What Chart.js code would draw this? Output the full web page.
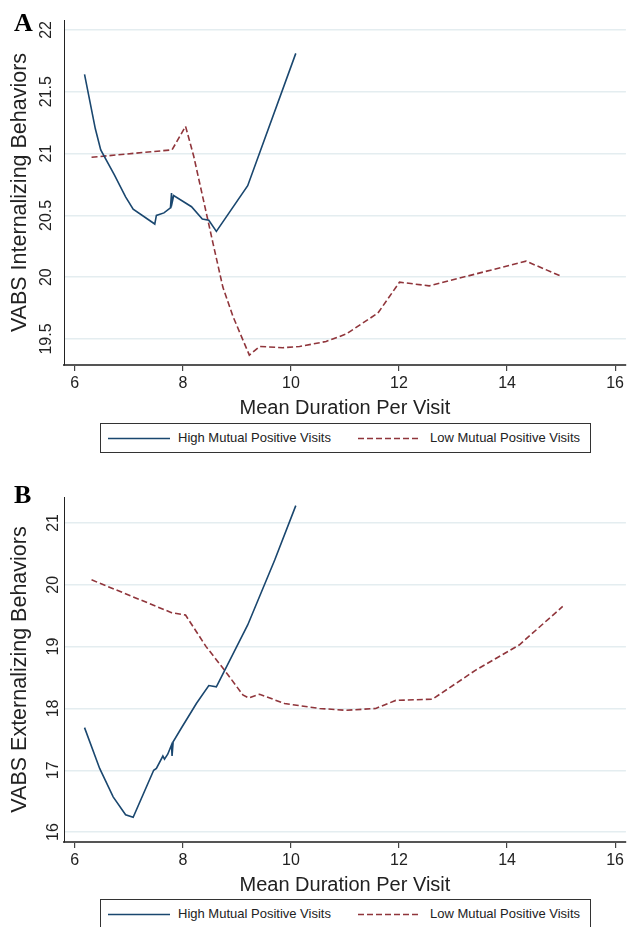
<!DOCTYPE html>
<html>
<head>
<meta charset="utf-8">
<script src="https://cdn.jsdelivr.net/npm/chart.js@4.4.1/dist/chart.umd.min.js"></script>
<style>
  body { margin: 0; background: #fff; }
  #wrap { position: relative; width: 627px; height: 927px; overflow: hidden; background: #fff; }
  canvas { position: absolute; left: 0; }
  .panel-letter { position: absolute; font-family: "Liberation Serif", "Times New Roman", serif; font-weight: bold; font-size: 26px; line-height: 1; color: #000; }
  .legend { position: absolute; left: 100px; width: 489px; height: 28px; border: 1px solid #333; background: #fff;
            font-family: "Liberation Sans", Arial, sans-serif; font-size: 13px; color: #222; }
  .legend svg { position: absolute; top: 13px; }
  .legend span { position: absolute; top: 6px; white-space: nowrap; }
</style>
</head>
<body>
<div id="wrap">
  <canvas id="chartA" width="627" height="460" style="top:0"></canvas>
  <canvas id="chartB" width="627" height="467" style="top:460px"></canvas>
  <div class="panel-letter" style="left:14px; top:10px">A</div>
  <div class="panel-letter" style="left:14px; top:482px">B</div>

  <div class="legend" style="top:423px">
    <svg width="62" height="3" style="left:7px"><line x1="0" y1="1.5" x2="62" y2="1.5" stroke="#1a476f" stroke-width="1.5"/></svg>
    <span style="left:77px">High Mutual Positive Visits</span>
    <svg width="62" height="3" style="left:257px"><line x1="0" y1="1.5" x2="62" y2="1.5" stroke="#90353b" stroke-width="1.5" stroke-dasharray="6,3"/></svg>
    <span style="left:329px">Low Mutual Positive Visits</span>
  </div>
  <div class="legend" style="top:899px">
    <svg width="62" height="3" style="left:7px"><line x1="0" y1="1.5" x2="62" y2="1.5" stroke="#1a476f" stroke-width="1.5"/></svg>
    <span style="left:77px">High Mutual Positive Visits</span>
    <svg width="62" height="3" style="left:257px"><line x1="0" y1="1.5" x2="62" y2="1.5" stroke="#90353b" stroke-width="1.5" stroke-dasharray="6,3"/></svg>
    <span style="left:329px">Low Mutual Positive Visits</span>
  </div>
</div>

<script>
// valores
const xTicks = [6, 8, 10, 12, 14, 16];
const yTicksA = [19.5, 20, 20.5, 21, 21.5, 22];
const yTicksB = [16, 17, 18, 19, 20, 21];

// Panel A - internalizing
const durHighA = [6.18, 6.38, 6.48, 6.73, 6.94, 7.08, 7.48, 7.51, 7.65, 7.77, 7.79, 7.80, 7.83, 8.16, 8.36, 8.48, 8.62, 9.20, 10.09];
const intHighA = [21.64, 21.20, 21.03, 20.83, 20.65, 20.55, 20.43, 20.50, 20.52, 20.56, 20.68, 20.60, 20.66, 20.57, 20.47, 20.46, 20.37, 20.74, 21.81];
const durLowA = [6.31, 7.80, 8.05, 8.20, 8.56, 8.74, 8.93, 9.23, 9.42, 9.85, 10.16, 10.65, 11.02, 11.61, 12.01, 12.56, 14.35, 14.99];
const intLowA = [20.97, 21.03, 21.22, 20.98, 20.27, 19.92, 19.68, 19.37, 19.44, 19.43, 19.44, 19.48, 19.54, 19.71, 19.96, 19.93, 20.13, 20.01];

// Panel B - externalizing
const durHighB = [6.18, 6.46, 6.71, 6.94, 7.08, 7.46, 7.51, 7.63, 7.66, 7.72, 7.79, 7.80, 7.82, 7.97, 8.16, 8.25, 8.48, 8.62, 9.20, 9.70, 10.09];
const extHighB = [17.69, 17.03, 16.57, 16.28, 16.24, 17.00, 17.03, 17.23, 17.18, 17.26, 17.41, 17.23, 17.46, 17.68, 17.95, 18.08, 18.37, 18.35, 19.35, 20.40, 21.28];
const durLowB = [6.31, 7.79, 8.05, 8.43, 8.77, 9.11, 9.22, 9.42, 9.88, 10.53, 11.02, 11.57, 11.94, 12.62, 13.42, 14.23, 15.03];
const extLowB = [20.08, 19.55, 19.51, 19.00, 18.62, 18.22, 18.17, 18.23, 18.08, 18.00, 17.97, 18.00, 18.13, 18.15, 18.62, 19.03, 19.65];

const AZUL = '#1a476f';
const GRANATE = '#90353b';
const FUENTE = '"Liberation Sans", Arial, sans-serif';

function puntos(xs, ys) {
    return xs.map((x, i) => ({ x: x, y: ys[i] }));
}

function crearPanel(id, xsHigh, ysHigh, xsLow, ysLow, yMin, yMax, yTicks, yTitulo, padTop, altoEjeX) {
    const ctx = document.getElementById(id).getContext('2d');
    return new Chart(ctx, {
        type: 'line',
        data: {
            datasets: [{
                label: 'High Mutual Positive Visits',
                data: puntos(xsHigh, ysHigh),
                borderColor: AZUL,
                borderWidth: 1.6
            }, {
                label: 'Low Mutual Positive Visits',
                data: puntos(xsLow, ysLow),
                borderColor: GRANATE,
                borderWidth: 1.6,
                borderDash: [6, 3]
            }]
        },
        options: {
            responsive: false,
            animation: false,
            devicePixelRatio: 1,
            layout: { padding: { top: padTop, left: 0, right: 0, bottom: 0 } },
            elements: { point: { radius: 0 }, line: { tension: 0 } },
            plugins: { legend: { display: false }, tooltip: { enabled: false } },
            scales: {
                x: {
                    type: 'linear',
                    min: 5.8,
                    max: 16.2,
                    afterBuildTicks: s => { s.ticks = xTicks.map(v => ({ value: v })); },
                    afterFit: s => { s.height = altoEjeX; },
                    grid: { drawOnChartArea: false, drawTicks: true, tickLength: 6, color: '#444', lineWidth: 1.2 },
                    border: { color: '#555', width: 2 },
                    ticks: { font: { family: FUENTE, size: 16 }, color: '#222', padding: 3, maxRotation: 0, callback: v => String(v) },
                    title: {
                        display: true,
                        text: 'Mean Duration Per Visit',
                        font: { family: FUENTE, size: 20 },
                        color: '#222',
                        padding: { top: 0, bottom: altoEjeX - 55 }
                    }
                },
                y: {
                    min: yMin,
                    max: yMax,
                    afterBuildTicks: s => { s.ticks = yTicks.map(v => ({ value: v })); },
                    afterFit: s => { s.width = 64; },
                    grid: { color: '#e4edf0', lineWidth: 1.5, drawTicks: false },
                    border: { color: '#222', width: 1 },
                    ticks: { font: { family: FUENTE, size: 16 }, color: '#222', minRotation: 90, maxRotation: 90, crossAlign: 'center', padding: 2, callback: v => String(v) },
                    title: {
                        display: true,
                        text: yTitulo,
                        font: { family: FUENTE, size: 21.5 },
                        color: '#222',
                        padding: { top: 7, bottom: 0 }
                    }
                }
            }
        }
    });
}

crearPanel('chartA', durHighA, intHighA, durLowA, intLowA, 19.29, 22.08, yTicksA, 'VABS Internalizing Behaviors', 20, 95);
crearPanel('chartB', durHighB, extHighB, durLowB, extLowB, 15.84, 21.42, yTicksB, 'VABS Externalizing Behaviors', 37, 85);
</script>
</body>
</html>
